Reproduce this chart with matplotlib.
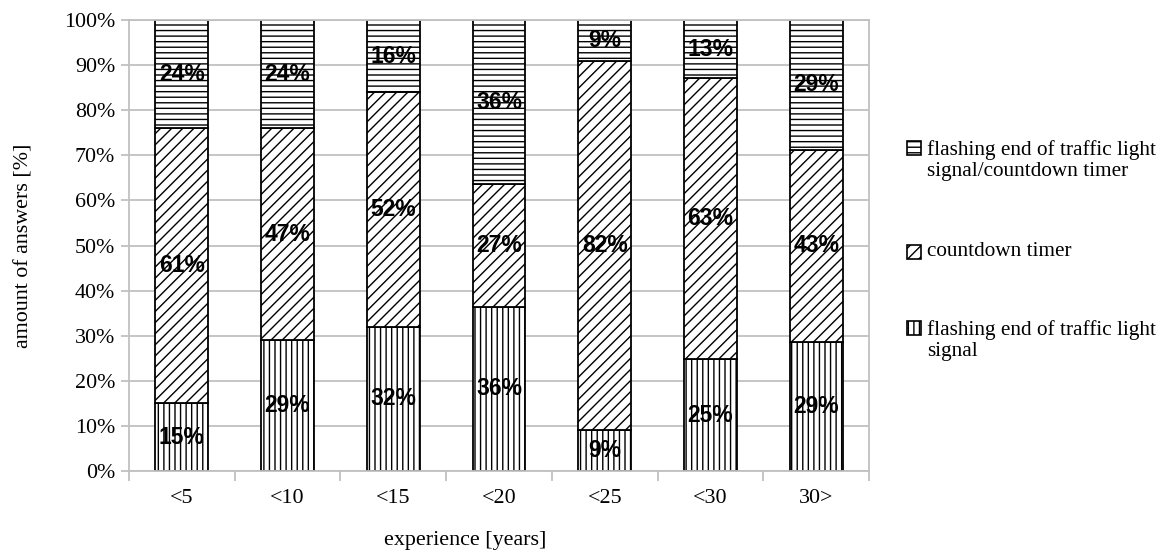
import matplotlib.pyplot as plt
import numpy as np
from matplotlib.patches import Rectangle
from matplotlib.ticker import FixedLocator, PercentFormatter

plt.rcParams['font.family'] = ['Liberation Serif', 'DejaVu Serif']
plt.rcParams['hatch.linewidth'] = 1.0

categories = ['<5', '<10', '<15', '<20', '<25', '<30', '30>']
flashing = [15, 29, 32, 36, 9, 25, 29]
countdown = [61, 47, 52, 27, 82, 63, 43]
flashing_countdown = [24, 24, 16, 36, 9, 13, 29]

series_names = ['flashing end of traffic light\nsignal',
                'countdown timer',
                'flashing end of traffic light\nsignal/countdown timer']
hatches = ['|||', '///', '---']

grid_grey = '#c0c0c0'
fs = 15.8

data = np.array([flashing, countdown, flashing_countdown], dtype=float)
shares = data / data.sum(axis=0) * 100  # 100% stacked

fig = plt.figure(figsize=(11.67, 5.53), dpi=100)
ax = fig.add_axes([0.1105, 0.1483, 0.6342, 0.8155])

x = np.arange(len(categories))
bottom = np.zeros(len(categories))
for i in range(3):
    ax.bar(x, shares[i], bottom=bottom, width=0.5, color='white',
           edgecolor='black', hatch=hatches[i], linewidth=1.3, zorder=2)
    for xi, b, s, v in zip(x, bottom, shares[i], data[i]):
        ax.text(xi, b + s / 2, f'{int(v)}%', ha='center', va='center',
                fontsize=16.5, fontweight='bold', family='Liberation Sans',
                color='black', zorder=3)
    bottom += shares[i]

ax.set_xlim(-0.5, len(categories) - 0.5)
ax.set_ylim(0, 100)
ax.set_yticks(np.arange(0, 101, 10))
ax.yaxis.set_major_formatter(PercentFormatter(decimals=0))
ax.set_xticks(x)
ax.set_xticklabels(categories)
ax.xaxis.set_minor_locator(FixedLocator(np.arange(-0.5, len(categories), 1)))

ax.yaxis.grid(True, color=grid_grey, linewidth=1.3)
ax.set_axisbelow(True)
for sp in ax.spines.values():
    sp.set_color(grid_grey)
    sp.set_linewidth(1.3)

ax.tick_params(axis='x', which='major', length=0, pad=13, labelsize=fs)
ax.tick_params(axis='x', which='minor', length=7, width=1.3, color=grid_grey)
ax.tick_params(axis='y', length=6, width=1.3, color=grid_grey, pad=4,
               labelsize=fs)

ax.set_ylabel('amount of answers [%]', fontsize=fs)
ax.yaxis.set_label_coords(-0.129, 0.5)
ax.set_xlabel('experience [years]', fontsize=fs)
ax.xaxis.set_label_coords(0.454, -0.133)

# legend, top series first
W, H = 1167, 553
entries = [(2, 148, 160.5), (1, 252, 252), (0, 328, 340.5)]
for idx, hy, ty in entries:
    box = Rectangle((907 / W, 1 - (hy + 7) / H), 14 / W, 14 / H,
                    transform=fig.transFigure, facecolor='white',
                    edgecolor='black', hatch=hatches[idx], linewidth=1.2)
    fig.add_artist(box)
    fig.text(927 / W, 1 - ty / H, series_names[idx], fontsize=15.3,
             ha='left', va='center', linespacing=1.15)

fig.savefig('out.png', dpi=100)
